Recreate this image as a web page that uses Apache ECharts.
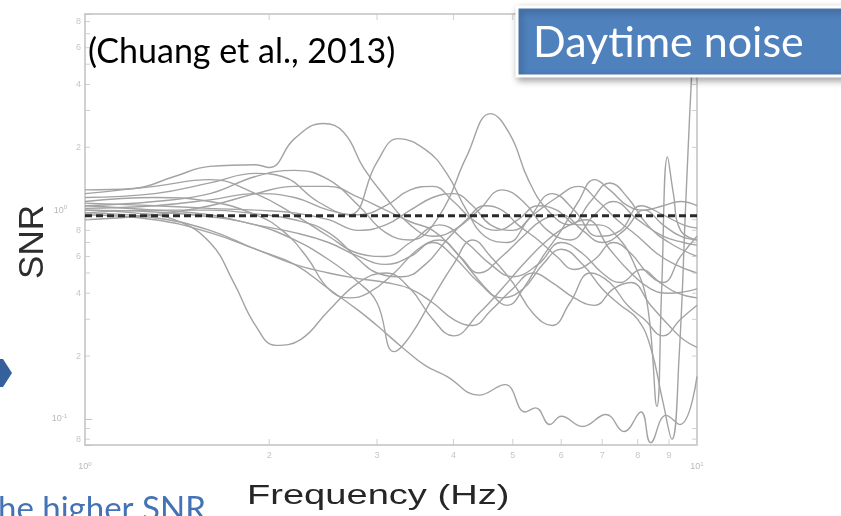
<!DOCTYPE html>
<html>
<head>
<meta charset="utf-8">
<script src="https://cdn.jsdelivr.net/npm/echarts@6/dist/echarts.min.js"></script>
<style>
html,body{margin:0;padding:0;background:#fff;}
#chart{width:841px;height:516px;}
</style>
</head>
<body>
<div id="chart"></div>
<script>
// ---- data ----
const freqTicks = [2, 3, 4, 5, 6, 7, 8, 9];
const freqTickLabels = ['2', '3', '4', '5', '6', '7', '8', '9'];
const snrTicks = [0.08, 0.09, 0.2, 0.3, 0.4, 0.5, 0.6, 0.7, 0.8, 0.9, 2, 3, 4, 5, 6, 7, 8];
const snrTickLabels = ['8', '', '2', '', '4', '', '6', '', '8', '', '2', '', '4', '', '6', '', '8'];
const freqMin = 1, freqMax = 10;
const snrMin = 0.075, snrMax = 8.7;
const dashedLevel = 0.94;

const c1 = [[1.0,1.25],[1.2,1.27],[1.4,1.45],[1.6,1.62],[1.9,1.65],[2.0,1.6],[2.2,2.2],[2.45,2.6],[2.65,2.35],[2.85,1.6],[3.1,1.15],[3.4,0.85],[3.7,0.75],[4.0,0.8],[4.4,1.0],[4.8,1.25],[5.2,1.1],[5.7,0.8],[6.2,0.72],[6.8,0.95],[7.3,1.1],[8.0,0.9],[8.8,0.75],[9.5,0.7],[10,0.68]];
const c2 = [[1.0,1.05],[1.3,1.1],[1.6,1.2],[1.9,1.45],[2.2,1.55],[2.5,1.4],[2.8,1.05],[3.1,0.78],[3.4,0.72],[3.8,0.95],[4.2,1.8],[4.6,2.9],[4.95,2.3],[5.3,1.4],[5.7,1.0],[6.2,0.85],[6.7,1.1],[7.2,1.35],[7.7,1.15],[8.3,0.85],[9.0,0.7],[10,0.6]];
const c3 = [[1.0,1.15],[1.3,1.2],[1.6,1.35],[1.9,1.5],[2.1,1.45],[2.4,1.1],[2.7,0.95],[3.0,1.7],[3.25,2.2],[3.6,1.95],[3.9,1.5],[4.2,1.0],[4.5,0.75],[4.9,0.7],[5.3,0.9],[5.8,1.2],[6.3,1.0],[6.9,0.75],[7.5,0.8],[8.1,1.05],[8.8,0.95],[9.5,0.85],[10,0.82]];
const c4 = [[1.0,1.0],[1.2,0.97],[1.4,0.9],[1.6,0.7],[1.75,0.45],[1.9,0.28],[2.05,0.225],[2.25,0.24],[2.5,0.33],[2.8,0.45],[3.1,0.5],[3.4,0.42],[3.7,0.3],[4.0,0.25],[4.4,0.32],[4.8,0.42],[5.2,0.55],[5.7,0.72],[6.2,0.85],[6.6,0.9],[7.2,0.65],[7.8,0.5],[8.4,0.42],[9.0,0.4],[10,0.42]];
const c5 = [[1.0,0.97],[1.3,0.92],[1.6,0.8],[1.9,0.65],[2.2,0.55],[2.5,0.42],[2.8,0.33],[3.0,0.28],[3.3,0.22],[3.6,0.18],[3.9,0.16],[4.4,0.13],[4.86,0.146],[5.24,0.108],[5.45,0.113],[5.75,0.094],[6.0,0.103],[6.5,0.092],[7.1,0.105],[7.6,0.087],[8.1,0.108],[8.4,0.077],[8.9,0.104],[9.38,0.094],[10,0.16]];
const c6 = [[1.0,1.02],[1.3,1.05],[1.6,1.12],[1.9,1.2],[2.2,1.15],[2.5,1.0],[2.8,0.95],[3.1,1.05],[3.4,1.25],[3.7,1.3],[4.0,1.1],[4.3,0.9],[4.7,0.8],[5.1,0.9],[5.5,1.05],[5.9,1.0],[6.4,0.85],[6.9,0.85],[7.4,0.75],[7.9,0.55],[8.3,0.35],[8.6,0.115],[8.75,0.4],[8.95,1.8],[9.15,1.2],[9.4,0.8],[10,0.72]];
const c7 = [[1.0,1.05],[1.3,1.0],[1.6,0.95],[1.9,0.85],[2.2,0.78],[2.5,0.7],[2.8,0.6],[3.1,0.55],[3.4,0.6],[3.7,0.7],[4.0,0.6],[4.4,0.45],[4.8,0.38],[5.2,0.42],[5.6,0.55],[6.0,0.65],[6.5,0.55],[7.0,0.42],[7.5,0.35],[8.0,0.3],[8.4,0.22],[8.8,0.12],[9.1,0.08],[9.35,0.2],[9.6,1.2],[9.85,6],[10,12]];
const c8 = [[1.0,1.08],[1.3,1.05],[1.6,1.02],[1.9,1.0],[2.2,0.97],[2.5,0.9],[2.8,0.8],[3.1,0.85],[3.4,1.0],[3.7,1.15],[4.0,1.2],[4.3,1.05],[4.6,0.85],[5.0,0.8],[5.4,0.95],[5.9,1.15],[6.4,1.3],[6.9,1.1],[7.4,0.9],[8.0,0.75],[8.6,0.62],[9.2,0.55],[10,0.5]];
const c9 = [[1.0,0.95],[1.3,0.9],[1.6,0.78],[1.9,0.65],[2.2,0.55],[2.5,0.5],[2.8,0.47],[3.1,0.45],[3.4,0.42],[3.7,0.36],[4.0,0.3],[4.3,0.28],[4.6,0.33],[5.0,0.42],[5.4,0.5],[5.8,0.45],[6.3,0.38],[6.8,0.35],[7.3,0.42],[7.8,0.45],[8.4,0.35],[9.0,0.28],[9.5,0.24],[10,0.22]];
const c10 = [[1.0,1.2],[1.3,1.3],[1.6,1.4],[1.9,1.2],[2.2,0.95],[2.5,0.75],[2.8,0.62],[3.1,0.6],[3.4,0.7],[3.8,0.85],[4.2,0.7],[4.6,0.55],[5.0,0.48],[5.5,0.55],[6.0,0.7],[6.5,0.62],[7.0,0.5],[7.5,0.45],[8.1,0.52],[8.7,0.45],[9.3,0.4],[10,0.38]];
const c11 = [[1.0,1.1],[1.3,1.15],[1.6,1.1],[1.9,0.95],[2.1,0.8],[2.3,0.6],[2.5,0.42],[2.7,0.38],[2.9,0.4],[3.2,0.5],[3.5,0.65],[3.8,0.72],[4.1,0.6],[4.4,0.5],[4.8,0.6],[5.2,0.75],[5.6,0.9],[6.0,0.95],[6.5,0.8],[7.0,0.7],[7.6,0.8],[8.2,1.0],[8.8,0.85],[9.4,0.75],[10,0.72]];
const c12 = [[1.0,0.9],[1.3,0.95],[1.6,1.05],[1.9,1.2],[2.2,1.3],[2.5,1.3],[2.8,1.15],[3.1,1.0],[3.4,0.88],[3.7,0.8],[4.0,0.65],[4.3,0.5],[4.6,0.4],[4.9,0.35],[5.2,0.42],[5.6,0.6],[6.0,0.8],[6.4,1.1],[6.8,1.4],[7.2,1.25],[7.7,1.05],[8.2,1.0],[8.8,1.05],[9.4,1.1],[10,1.05]];
const c13 = [[1.0,0.97],[1.3,1.0],[1.6,1.0],[1.9,0.96],[2.2,0.9],[2.5,0.78],[2.8,0.58],[3.0,0.5],[3.3,0.48],[3.6,0.55],[3.9,0.72],[4.2,0.9],[4.5,1.05],[4.8,1.0],[5.1,0.85],[5.5,0.72],[5.9,0.6],[6.3,0.52],[6.8,0.58],[7.3,0.7],[7.8,0.62],[8.3,0.5],[8.8,0.45],[9.4,0.6],[10,0.75]];
const c14 = [[1.0,1.0],[1.3,0.98],[1.6,0.93],[1.9,0.85],[2.2,0.72],[2.5,0.58],[2.8,0.45],[3.0,0.36],[3.2,0.21],[3.4,0.25],[3.7,0.38],[4.0,0.55],[4.3,0.72],[4.6,0.6],[5.0,0.45],[5.4,0.32],[5.8,0.28],[6.2,0.36],[6.7,0.5],[7.2,0.45],[7.7,0.35],[8.2,0.3],[8.8,0.25],[9.4,0.3],[10,0.35]];
const curves = [c1, c2, c3, c4, c5, c6, c7, c8, c9, c10, c11, c12, c13, c14];

// ---- chart ----
const chart = echarts.init(document.getElementById('chart'), null, {renderer: 'canvas'});
const tickColor = '#c4c4c4';
const labColor = '#b8b8b8';

function supFmt(v) {
  const l = Math.log10(v);
  const e = Math.round(l);
  if (Math.abs(l - e) > 0.01) return '';
  return '10{s|' + e + '}';
}
const supRich = { s: { fontSize: 6, color: labColor, padding: [0, 0, 6, 0] } };

const lineSeries = curves.map(function (c) {
  return {
    type: 'line', data: c, smooth: 0.45, symbol: 'none', silent: true,
    lineStyle: { color: '#a3a3a3', width: 1.4 }, z: 2
  };
});

function tickSeries(data, symbolSize, offset, labelPos, labels, dist) {
  return {
    type: 'scatter', data: data, symbol: 'rect', symbolSize: symbolSize,
    symbolOffset: offset, clip: false, silent: true, z: 3,
    itemStyle: { color: tickColor },
    label: labels ? {
      show: true, position: labelPos, distance: dist, color: labColor, fontSize: 9,
      fontFamily: 'Liberation Sans',
      formatter: function (p) { return labels[p.dataIndex]; }
    } : { show: false }
  };
}

const option = {
  animation: false,
  backgroundColor: '#fff',
  grid: { left: 85, right: 144, top: 14, bottom: 71, show: true, borderColor: '#d0d0d0', borderWidth: 2, backgroundColor: '#fff' },
  xAxis: {
    type: 'log', logBase: 10, min: freqMin, max: freqMax,
    axisLine: { show: false }, splitLine: { show: false },
    axisTick: { show: false },
    axisLabel: { show: true, margin: 16, color: labColor, fontSize: 9, fontFamily: 'Liberation Sans',
      showMinLabel: true, showMaxLabel: true, formatter: supFmt, rich: supRich }
  },
  yAxis: {
    type: 'log', logBase: 10, min: snrMin, max: snrMax,
    axisLine: { show: false }, splitLine: { show: false },
    axisTick: { show: true, inside: true, length: 7, lineStyle: { color: tickColor, width: 1 } },
    axisLabel: { show: true, margin: 18, color: labColor, fontSize: 9, fontFamily: 'Liberation Sans', formatter: supFmt, rich: supRich }
  },
  series: lineSeries.concat([
    {
      type: 'line', data: [[freqMin, dashedLevel], [freqMax, dashedLevel]], symbol: 'none', silent: true, z: 5,
      lineStyle: { color: '#2a2a2a', width: 2.8, type: [7, 4] }
    },
    tickSeries(freqTicks.map(function (f) { return [f, snrMin]; }), [1, 6], [0, -3], 'bottom', freqTickLabels, 6),
    tickSeries(freqTicks.map(function (f) { return [f, snrMax]; }), [1, 6], [0, 3], 'top', null, 0),
    tickSeries(snrTicks.map(function (v) { return [freqMin, v]; }), [5, 1], [2.5, 0], 'left', snrTickLabels, 4),
    tickSeries(snrTicks.map(function (v) { return [freqMax, v]; }), [5, 1], [-2.5, 0], 'right', null, 0)
  ]),
  graphic: [
    { type: 'text', x: 88, y: 52, z: 100,
      style: { text: '(Chuang et al., 2013)', fontFamily: 'Lato', fontSize: 34, fill: '#000', textAlign: 'left', textVerticalAlign: 'middle' } },
    { type: 'rect', z: 100, shape: { x: 517, y: 7, width: 340, height: 69 },
      style: { fill: '#4F81BD', stroke: '#fff', lineWidth: 3, shadowBlur: 7, shadowColor: 'rgba(0,0,0,0.35)', shadowOffsetX: 2, shadowOffsetY: 3 } },
    { type: 'text', x: 533, y: 43, z: 101,
      style: { text: 'Daytime noise', fontFamily: 'Lato', fontSize: 43, fill: '#fff', textAlign: 'left', textVerticalAlign: 'middle' } },
    { type: 'text', x: 33, y: 242, rotation: Math.PI / 2, z: 100,
      style: { text: 'SNR', fontFamily: 'Liberation Sans', fontSize: 35, fill: '#2d2d2d', textAlign: 'center', textVerticalAlign: 'middle' } },
    { type: 'text', x: 247, y: 496, scaleX: 1.36, z: 100,
      style: { text: 'Frequency (Hz)', fontFamily: 'Liberation Sans', fontSize: 28, fill: '#262626', textAlign: 'left', textVerticalAlign: 'middle' } },
    { type: 'text', x: -2, y: 493, z: 100,
      style: { text: 'he higher SNR', fontFamily: 'Lato', fontSize: 33, fill: '#4372B5', textAlign: 'left', textVerticalAlign: 'top' } },
    { type: 'polygon', z: 100, shape: { points: [[0, 359], [3, 359], [12, 373], [3, 387], [0, 387]] },
      style: { fill: '#34609b' } }
  ]
};
chart.setOption(option);
</script>
</body>
</html>
